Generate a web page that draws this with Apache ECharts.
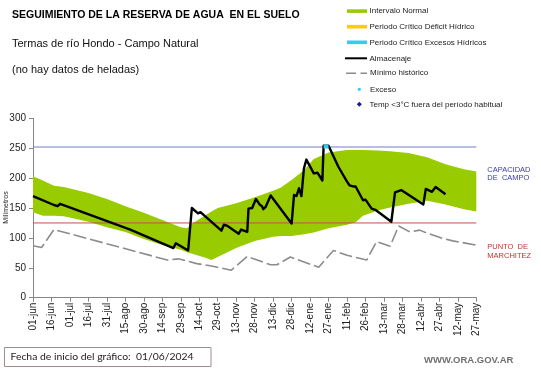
<!DOCTYPE html>
<html><head><meta charset="utf-8">
<script src="https://cdn.jsdelivr.net/npm/echarts@6/dist/echarts.min.js"></script>
<style>html,body{margin:0;padding:0;background:#fff}#c{width:541px;height:368px}</style>
</head><body><div id="c"></div>
<script>
// ---- data ----
const xLabels = ['01-jun','16-jun','01-jul','16-jul','31-jul','15-ago','30-ago','14-sep','29-sep','14-oct','29-oct','13-nov','28-nov','13-dic','28-dic','12-ene','27-ene','11-feb','26-feb','13-mar','28-mar','12-abr','27-abr','12-may','27-may'];
const bandDays = [0,8,17,25,45,60,75,90,105,120,125,130,140,145,150,165,180,195,201,210,220,228,240,255,262,268,280,290,305,320,335,350,360];
const bandHigh = [203,196,187,185,175,165,153,142,130,118,116,125,138,144,150,158,168,179,184,197,213,232,243,247,247,247,246,245,242,235,223,215,211];
const bandLow  = [143,137,137,136,127,118,110,98,88,80,76,73,67,63,68,83,95,102,103,103,106,109,116,122,126,137,146,151,157,162,156,148,144];
const almDays = [0,17,20,22,79,114,116,126,129,134,136,153,155,158,167,169,174,175,178,181,184,186,187,189,193,210,212,214,216,218,220,222,228,231,235,236,240,241,248,255,257,260,262,268,270,275,278,291,294,299,317,319,324,327,335];
const almVals = [170,155,153,157,114,83,91,79,150,141,143,112,122,120,107,114,110,149,150,165,156,153,148,152,171,124,172,170,183,170,216,231,208,209,196,254,254,252,219,194,188,186,186,163,164,149,147,127,176,180,156,182,177,185,173];
const minDays = [0,7,17,109,118,133,145,161,165,174,178,193,198,209,232,244,255,271,279,290,297,306,314,320,333,341,360];
const minVals = [87,84,114,63,65,57,53,46,53,69,66,55,55,68,51,79,71,63,94,86,120,110,113,108,99,95,88];
const excesoDays = [236,240];
const excesoVals = [253,253];
const refDays = [0,360];
const capacidad = 252;
const marchitez = 125;

// ---- chart ----
const AR = '"Liberation Sans", Arial, sans-serif';
const pair = (xs, ys) => xs.map((x, i) => [x, ys[i]]);
const chart = echarts.init(document.getElementById('c'), null, {renderer: 'canvas', width: 541, height: 368});

const txt = (t, x, y, size, color, weight) => ({
  type: 'text', x: x, y: y, silent: true,
  style: {text: t, font: (weight ? weight + ' ' : '') + size + 'px ' + AR, fill: color, align: 'left', verticalAlign: 'middle'}
});

const refLine = (name, value, color) => ({
  type: 'line', name: name, data: refDays.map(d => [d, value]), silent: true, z: 2, symbol: 'none',
  lineStyle: {color: color, width: 1, type: 'solid'}
});

const option = {
  animation: false,
  backgroundColor: '#fff',
  grid: {left: 33, top: 118.3, width: 443.3, height: 179.4},
  xAxis: {
    type: 'value', min: 0, max: 360, interval: 15,
    axisLine: {lineStyle: {color: '#868686', width: 1}},
    axisTick: {show: true, length: 4, lineStyle: {color: '#868686'}},
    splitLine: {show: false},
    axisLabel: {rotate: 90, margin: 5, fontSize: 10, fontFamily: AR, color: '#222',
      formatter: v => xLabels[Math.round(v / 15)] || ''}
  },
  yAxis: {
    type: 'value', min: 0, max: 300, interval: 50,
    axisLine: {show: true, lineStyle: {color: '#868686', width: 1}},
    axisTick: {show: true, length: 4, lineStyle: {color: '#868686'}},
    splitLine: {show: false},
    axisLabel: {margin: 7, fontSize: 10, fontFamily: AR, color: '#222'}
  },
  series: [
    {type: 'custom', name: 'Intervalo Normal', silent: true, z: 1,
     data: [[0]],
     renderItem: function (params, api) {
       const pts = [];
       for (let i = 0; i < bandDays.length; i++) pts.push(api.coord([bandDays[i], bandHigh[i]]));
       for (let i = bandDays.length - 1; i >= 0; i--) pts.push(api.coord([bandDays[i], bandLow[i]]));
       return {type: 'polygon', shape: {points: pts}, style: {fill: '#99cc00', stroke: null}};
     }},
    refLine('Capacidad de campo', capacidad, '#6f7fc4'),
    refLine('Punto de marchitez', marchitez, '#c0504d'),
    {type: 'line', name: 'Mínimo histórico', data: pair(minDays, minVals), symbol: 'none',
     lineStyle: {color: '#8c8c8c', width: 1.6, type: [13, 4]}, z: 3},
    {type: 'line', name: 'Almacenaje', data: pair(almDays, almVals), symbol: 'none',
     lineStyle: {color: '#000', width: 2.4, join: 'round'}, z: 4},
    {type: 'line', name: 'Exceso', data: pair(excesoDays, excesoVals), symbol: 'none',
     lineStyle: {color: '#33ccee', width: 4}, z: 5}
  ],
  graphic: [
    txt('SEGUIMIENTO DE LA RESERVA DE AGUA  EN EL SUELO', 12, 15, 10.5, '#000', 'bold'),
    txt('Termas de río Hondo - Campo Natural', 12, 44, 11, '#111'),
    txt('(no hay datos de heladas)', 12, 69.5, 11, '#111'),
    // legend
    {type: 'rect', silent: true, shape: {x: 347, y: 9.3, width: 20, height: 3.6}, style: {fill: '#99cc00'}},
    {type: 'rect', silent: true, shape: {x: 347, y: 24.9, width: 20, height: 3.6}, style: {fill: '#ffcc00'}},
    {type: 'rect', silent: true, shape: {x: 347, y: 40.5, width: 20, height: 3.6}, style: {fill: '#33ccee'}},
    {type: 'line', silent: true, shape: {x1: 345, y1: 58.3, x2: 367, y2: 58.3}, style: {stroke: '#000', lineWidth: 2}},
    {type: 'line', silent: true, shape: {x1: 346, y1: 73.3, x2: 367, y2: 73.3}, style: {stroke: '#8c8c8c', lineWidth: 1.6, lineDash: [10, 4.5]}},
    {type: 'circle', silent: true, shape: {cx: 359.3, cy: 89.3, r: 1.6}, style: {fill: '#33ccee'}},
    {type: 'polygon', silent: true, shape: {points: [[359.3, 101.8], [361.8, 104.3], [359.3, 106.8], [356.8, 104.3]]}, style: {fill: '#1a1a99'}},
    txt('Intervalo Normal', 369.5, 11, 8, '#222'),
    txt('Periodo Crítico Déficit Hídrico', 369.5, 26.6, 8, '#222'),
    txt('Periodo Crítico Excesos Hídricos', 369.5, 42.3, 8, '#222'),
    txt('Almacenaje', 369.5, 58.3, 8, '#222'),
    txt('Mínimo histórico', 370, 72.9, 8, '#222'),
    txt('Exceso', 370, 89.4, 8, '#222'),
    txt('Temp <3°C fuera del período habitual', 369.5, 104.5, 8, '#222'),
    // right labels
    txt('CAPACIDAD', 487.3, 170, 7.5, '#3a3aa8'),
    txt('DE  CAMPO', 487.3, 177.5, 7.5, '#3a3aa8'),
    txt('PUNTO  DE', 487.3, 246.5, 7.5, '#c83232'),
    txt('MARCHITEZ', 487.3, 255.5, 7.5, '#c83232'),
    // y axis name
    {type: 'text', silent: true, x: 6, y: 207.5, rotation: Math.PI / 2,
     style: {text: 'Milímetros', font: '7px ' + AR, fill: '#222', align: 'center', verticalAlign: 'middle'}},
    // footer
    {type: 'rect', silent: true, shape: {x: 4.5, y: 347.5, width: 206.5, height: 19}, style: {fill: 'none', stroke: '#a08c8c', lineWidth: 1}},
    {type: 'text', silent: true, x: 10.5, y: 357, style: {text: 'Fecha de inicio del gráfico:  01/06/2024', font: '10.4px Lato, "Open Sans", sans-serif', fill: '#222', align: 'left', verticalAlign: 'middle'}},
    {type: 'text', silent: true, x: 424, y: 360.7, style: {text: 'WWW.ORA.GOV.AR', font: 'bold 9.5px ' + AR, fill: '#707070', align: 'left', verticalAlign: 'middle'}}
  ]
};
chart.setOption(option);
</script></body></html>
